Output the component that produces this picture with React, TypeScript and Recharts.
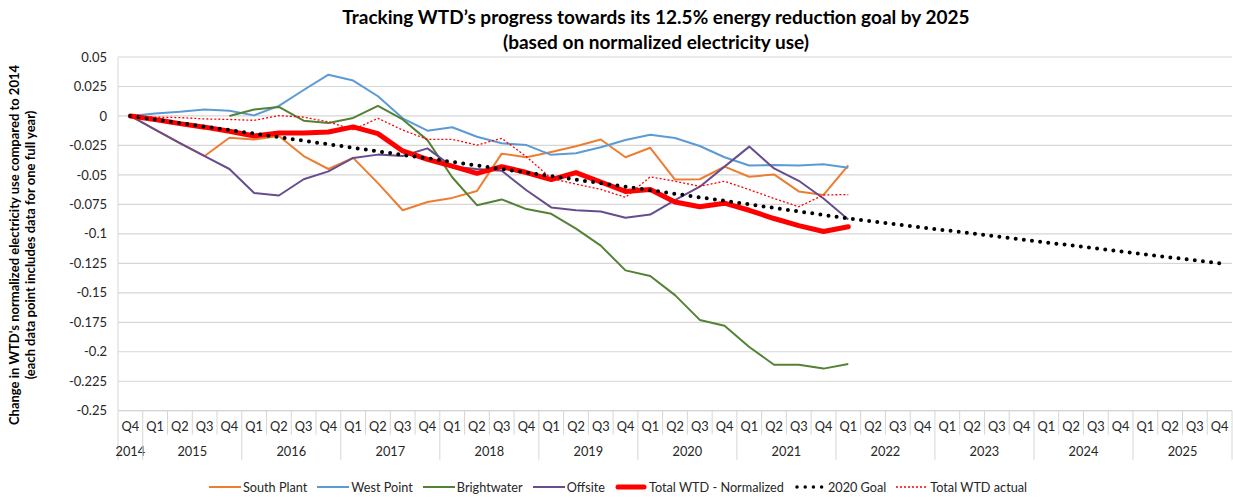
import React from 'react'
import { LineChart, Line, XAxis, YAxis, CartesianGrid, Legend } from 'recharts'

// category labels
const YEARS = ['2014', '2015', '2016', '2017', '2018', '2019', '2020', '2021', '2022', '2023', '2024', '2025']
const QUARTERS = ['Q4', ...YEARS.slice(1).flatMap(() => ['Q1', 'Q2', 'Q3', 'Q4'])]
const CATEGORY_YEARS = ['2014', ...YEARS.slice(1).flatMap((y) => [y, y, y, y])]

const Y_TICKS = [0.05, 0.025, 0, -0.025, -0.05, -0.075, -0.1, -0.125, -0.15, -0.175, -0.2, -0.225, -0.25]

// series values, 2014 Q4 .. 2022 Q1
const SOUTH_PLANT = [0, -0.0115, -0.023, -0.034, -0.0185, -0.02, -0.017, -0.034, -0.045, -0.0356, -0.057, -0.08, -0.073, -0.0695, -0.0636, -0.032, -0.035, -0.0305, -0.0257, -0.02, -0.035, -0.027, -0.054, -0.0537, -0.043, -0.0516, -0.0496, -0.064, -0.067, -0.042]
const WEST_POINT = [0, 0.002, 0.0035, 0.0055, 0.0045, 0.0005, 0.0085, 0.022, 0.035, 0.03, 0.0167, -0.002, -0.0125, -0.0096, -0.0176, -0.0232, -0.0247, -0.033, -0.0317, -0.0266, -0.0204, -0.016, -0.0187, -0.0255, -0.035, -0.042, -0.0416, -0.042, -0.041, -0.044]
const BRIGHTWATER = [null, null, null, null, 0, 0.0054, 0.0076, -0.004, -0.006, -0.0017, 0.0085, -0.003, -0.0205, -0.052, -0.0757, -0.0708, -0.079, -0.083, -0.0956, -0.11, -0.131, -0.1357, -0.152, -0.173, -0.178, -0.196, -0.211, -0.211, -0.2143, -0.2104]
const OFFSITE = [0, -0.0115, -0.023, -0.034, -0.045, -0.0653, -0.0675, -0.0537, -0.047, -0.0356, -0.0328, -0.034, -0.0275, -0.043, -0.045, -0.0465, -0.063, -0.0776, -0.08, -0.081, -0.0864, -0.0836, -0.0714, -0.06, -0.043, -0.026, -0.0445, -0.055, -0.07, -0.0878]
const TOTAL_NORMALIZED = [0, -0.003, -0.0065, -0.0095, -0.013, -0.017, -0.0144, -0.0144, -0.0136, -0.0093, -0.015, -0.0297, -0.0368, -0.0425, -0.0487, -0.043, -0.048, -0.054, -0.048, -0.056, -0.064, -0.0623, -0.073, -0.077, -0.074, -0.08, -0.087, -0.093, -0.098, -0.094]
const TOTAL_ACTUAL = [0, -0.001, -0.0014, -0.0025, -0.003, -0.0037, 0.0003, -0.001, -0.005, -0.0116, -0.002, -0.012, -0.0198, -0.0198, -0.0247, -0.019, -0.0346, -0.053, -0.0578, -0.0623, -0.069, -0.0516, -0.0554, -0.0597, -0.0554, -0.0625, -0.07, -0.077, -0.067, -0.0667]
// goal line: straight segments between these points
const GOAL_INDEX = [0, 29, 44]
const GOAL_VALUES = [0, -0.087, -0.125]

const data = QUARTERS.map((q, i) => {
  const g = GOAL_INDEX.indexOf(i)
  return {
    key: `${CATEGORY_YEARS[i]} ${q}`,
    south: SOUTH_PLANT[i] ?? null,
    west: WEST_POINT[i] ?? null,
    bright: BRIGHTWATER[i] ?? null,
    offsite: OFFSITE[i] ?? null,
    normalized: TOTAL_NORMALIZED[i] ?? null,
    goal: g >= 0 ? GOAL_VALUES[g] : null,
    actual: TOTAL_ACTUAL[i] ?? null
  }
})

const W = 1233
const H = 497
const PLOT_LEFT = 118
const PLOT_RIGHT = 1232
const STEP = (PLOT_RIGHT - PLOT_LEFT) / QUARTERS.length
const FONT = 'Lato, "Open Sans", sans-serif'
const TEXT = '#262626'
const GRID = '#d6d6d6'

const SERIES = [
  { key: 'south', name: 'South Plant', color: '#ED7D31', width: 2, dash: undefined, cap: 'butt' },
  { key: 'west', name: 'West Point', color: '#5B9BD5', width: 2, dash: undefined, cap: 'butt' },
  { key: 'bright', name: 'Brightwater', color: '#548235', width: 2, dash: undefined, cap: 'butt' },
  { key: 'offsite', name: 'Offsite', color: '#674C8E', width: 2, dash: undefined, cap: 'butt' },
  { key: 'normalized', name: 'Total WTD - Normalized', color: '#FF0000', width: 5, dash: undefined, cap: 'round' },
  { key: 'goal', name: '2020 Goal', color: '#000000', width: 4, dash: '0 8.2', cap: 'round' },
  { key: 'actual', name: 'Total WTD actual', color: '#FF0000', width: 1.3, dash: '2 2', cap: 'butt' }
]

function QuarterTick(props: any) {
  const { x, y, index } = props
  const left = x - STEP / 2
  const isYearStart = index === 0 || QUARTERS[index] === 'Q1'
  const isLast = index === QUARTERS.length - 1
  const span = index === 0 ? 1 : 4
  return (
    <g>
      <line x1={left} x2={left} y1={y} y2={y + (isYearStart ? 49 : 24)} stroke={GRID} />
      {isLast && <line x1={x + STEP / 2} x2={x + STEP / 2} y1={y} y2={y + 49} stroke={GRID} />}
      <text x={x} y={y + 20.5} textAnchor="middle" fontSize={12.8} fill={TEXT} fontFamily={FONT}>
        {QUARTERS[index]}
      </text>
      {isYearStart && (
        <text x={left + (span * STEP) / 2} y={y + 45} textAnchor="middle" fontSize={12.8} fill={TEXT} fontFamily={FONT}>
          {CATEGORY_YEARS[index]}
        </text>
      )}
    </g>
  )
}

function LegendContent() {
  return (
    <div style={{ display: 'flex', justifyContent: 'center', alignItems: 'center', paddingTop: 4, paddingLeft: 14, fontFamily: FONT, fontSize: 12.7, color: TEXT }}>
      {SERIES.map((s) => (
        <div key={s.key} style={{ display: 'flex', alignItems: 'center', marginRight: 10 }}>
          <svg width={32} height={10} style={{ marginRight: 2 }}>
            <line
              x1={s.cap === 'round' ? 3 : 0}
              x2={s.cap === 'round' ? 29 : 32}
              y1={5}
              y2={5}
              stroke={s.color}
              strokeWidth={s.key === 'goal' ? 3.5 : s.width}
              strokeDasharray={s.dash}
              strokeLinecap={s.cap as any}
            />
          </svg>
          <span>{s.name}</span>
        </div>
      ))}
    </div>
  )
}

export default function App() {
  return (
    <div style={{ position: 'absolute', left: 0, top: 0, width: W, height: H, background: '#fff', fontFamily: FONT }}>
      <div style={{ position: 'absolute', left: 0, top: 4, width: 1312, textAlign: 'center', fontSize: 19, fontWeight: 700, lineHeight: '25px', color: '#000' }}>
        <div>Tracking WTD’s progress towards its 12.5% energy reduction goal by 2025</div>
        <div>(based on normalized electricity use)</div>
      </div>
      <div
        style={{
          position: 'absolute',
          left: 21.5 - 200,
          top: 245 - 16,
          width: 400,
          height: 32,
          transform: 'rotate(-90deg)',
          textAlign: 'center',
          fontSize: 13,
          fontWeight: 700,
          lineHeight: '16px',
          color: '#000',
          whiteSpace: 'nowrap'
        }}
      >
        <div>Change in WTD's normalized electricity use compared to 2014</div>
        <div>(each data point includes data for one full year)</div>
      </div>
      <LineChart width={W} height={H} data={data} margin={{ top: 57, right: W - PLOT_RIGHT, left: 0, bottom: 0 }}>
        <CartesianGrid vertical={false} stroke={GRID} strokeWidth={1.2} />
        <XAxis
          dataKey="key"
          interval={0}
          height={64.3}
          padding={{ left: STEP / 2, right: STEP / 2 }}
          tickLine={false}
          tickSize={0}
          tickMargin={0}
          axisLine={{ stroke: GRID }}
          tick={<QuarterTick />}
        />
        <YAxis
          width={PLOT_LEFT}
          domain={[-0.25, 0.05]}
          ticks={Y_TICKS}
          interval={0}
          tickLine={false}
          tickSize={0}
          tickMargin={11}
          axisLine={{ stroke: GRID }}
          tick={{ fontSize: 13, fill: TEXT, fontFamily: FONT }}
          tickFormatter={(v: number) => String(v)}
        />
        <Legend verticalAlign="bottom" height={22} content={<LegendContent />} />
        {SERIES.map((s) => (
          <Line
            key={s.key}
            dataKey={s.key}
            name={s.name}
            type="linear"
            stroke={s.color}
            strokeWidth={s.width}
            strokeDasharray={s.dash}
            strokeLinecap={s.cap as any}
            strokeLinejoin="round"
            dot={false}
            activeDot={false}
            connectNulls={s.key === 'goal'}
            isAnimationActive={false}
          />
        ))}
      </LineChart>
    </div>
  )
}
